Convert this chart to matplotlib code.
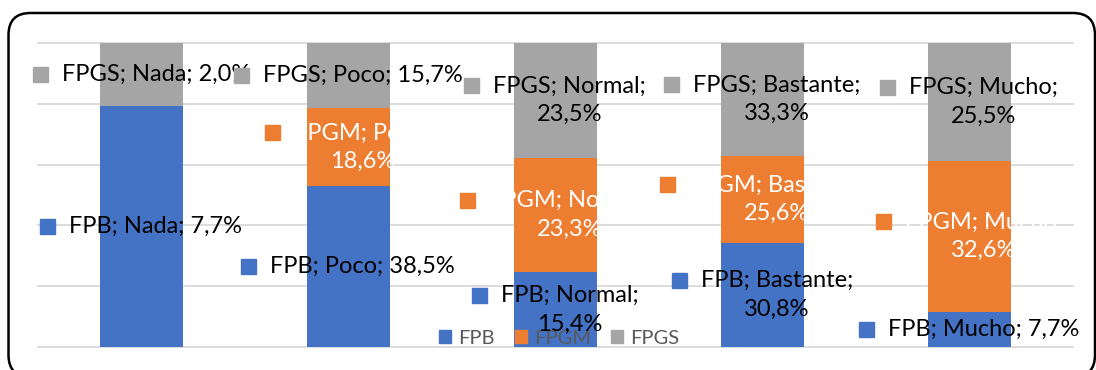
import numpy as np
import matplotlib.pyplot as plt
from matplotlib.patches import Rectangle, Patch, FancyBboxPatch
from matplotlib.transforms import IdentityTransform

categories = ['Nada', 'Poco', 'Normal', 'Bastante', 'Mucho']
series = ['FPB', 'FPGM', 'FPGS']
fpb = [7.7, 38.5, 15.4, 30.8, 7.7]
fpgm = [0.0, 18.6, 23.3, 25.6, 32.6]
fpgs = [2.0, 15.7, 23.5, 33.3, 25.5]

colors = ['#4472C4', '#ED7D31', '#A5A5A5']
text_colors = ['black', 'white', 'black']
# labels that Excel broke onto two lines
wrapped = [[False, False, True, True, False],
           [False, True, True, True, True],
           [False, False, True, True, True]]

plt.rcParams['font.family'] = ['Lato', 'DejaVu Sans']

W, H = 1096, 370
fig = plt.figure(figsize=(W / 100, H / 100), dpi=100)
ax = fig.add_axes([37.7 / W, 22.7 / H, 1035.3 / W, 304.6 / H])

vals = np.array([fpb, fpgm, fpgs])
shares = vals / vals.sum(axis=0)
x = np.arange(len(categories))
bottoms = np.vstack([np.zeros(len(categories)), np.cumsum(shares, axis=0)[:-1]])

for k in range(len(series)):
    ax.bar(x, shares[k], 0.4, bottom=bottoms[k], color=colors[k], zorder=2)

for g in np.arange(0, 1.01, 0.2):
    ax.axhline(g, color='#D9D9D9', lw=1.3, zorder=1, clip_on=False)

ax.set_xlim(-0.5, len(categories) - 0.5)
ax.set_ylim(0, 1)
ax.axis('off')

leg = ax.legend(handles=[Patch(color=c, label=s) for c, s in zip(colors, series)],
                ncol=3, loc='center', bbox_to_anchor=(0.5035, 0.0305), frameon=False,
                fontsize=14.5, labelcolor='#595959', handlelength=0.6, handleheight=0.6,
                handletextpad=0.35, columnspacing=1.0, borderpad=0, borderaxespad=0)
leg.set_zorder(3)

# data labels: legend key + "serie; categoria; valor", block centred on segment
renderer = fig.canvas.get_renderer()
fs = 17
key = 15
gap = 14
probe = ax.text(0, 0, 'FPB', fontsize=fs, transform=IdentityTransform())
h1 = probe.get_window_extent(renderer).height
probe.remove()

for k in range(len(series)):
    for i in range(len(categories)):
        if vals[k, i] == 0:
            continue
        pct = f'{vals[k, i]:.1f}'.replace('.', ',') + '%'
        sep = '\n' if wrapped[k][i] else ' '
        s = f'{series[k]}; {categories[i]};{sep}{pct}'
        cx, cy = ax.transData.transform((x[i], bottoms[k, i] + shares[k, i] / 2))
        t = ax.text(cx, cy, s, fontsize=fs, color=text_colors[k], ha='center', va='center',
                    multialignment='center', linespacing=1.45,
                    transform=IdentityTransform(), clip_on=False, zorder=4)
        bb = t.get_window_extent(renderer)
        left = cx - (key + gap + bb.width) / 2
        key_y = bb.y1 - h1 / 2
        ax.add_patch(Rectangle((left, key_y - key / 2), key, key, color=colors[k],
                               transform=IdentityTransform(), clip_on=False, zorder=4))
        t.set_position((left + key + gap + bb.width / 2, cy))

fig.add_artist(FancyBboxPatch((8.5, -7), 1086.5, 364,
                              boxstyle='round,pad=0,rounding_size=22',
                              transform=IdentityTransform(), fill=False,
                              ec='black', lw=1.8))

fig.savefig('out.png', dpi=100)
